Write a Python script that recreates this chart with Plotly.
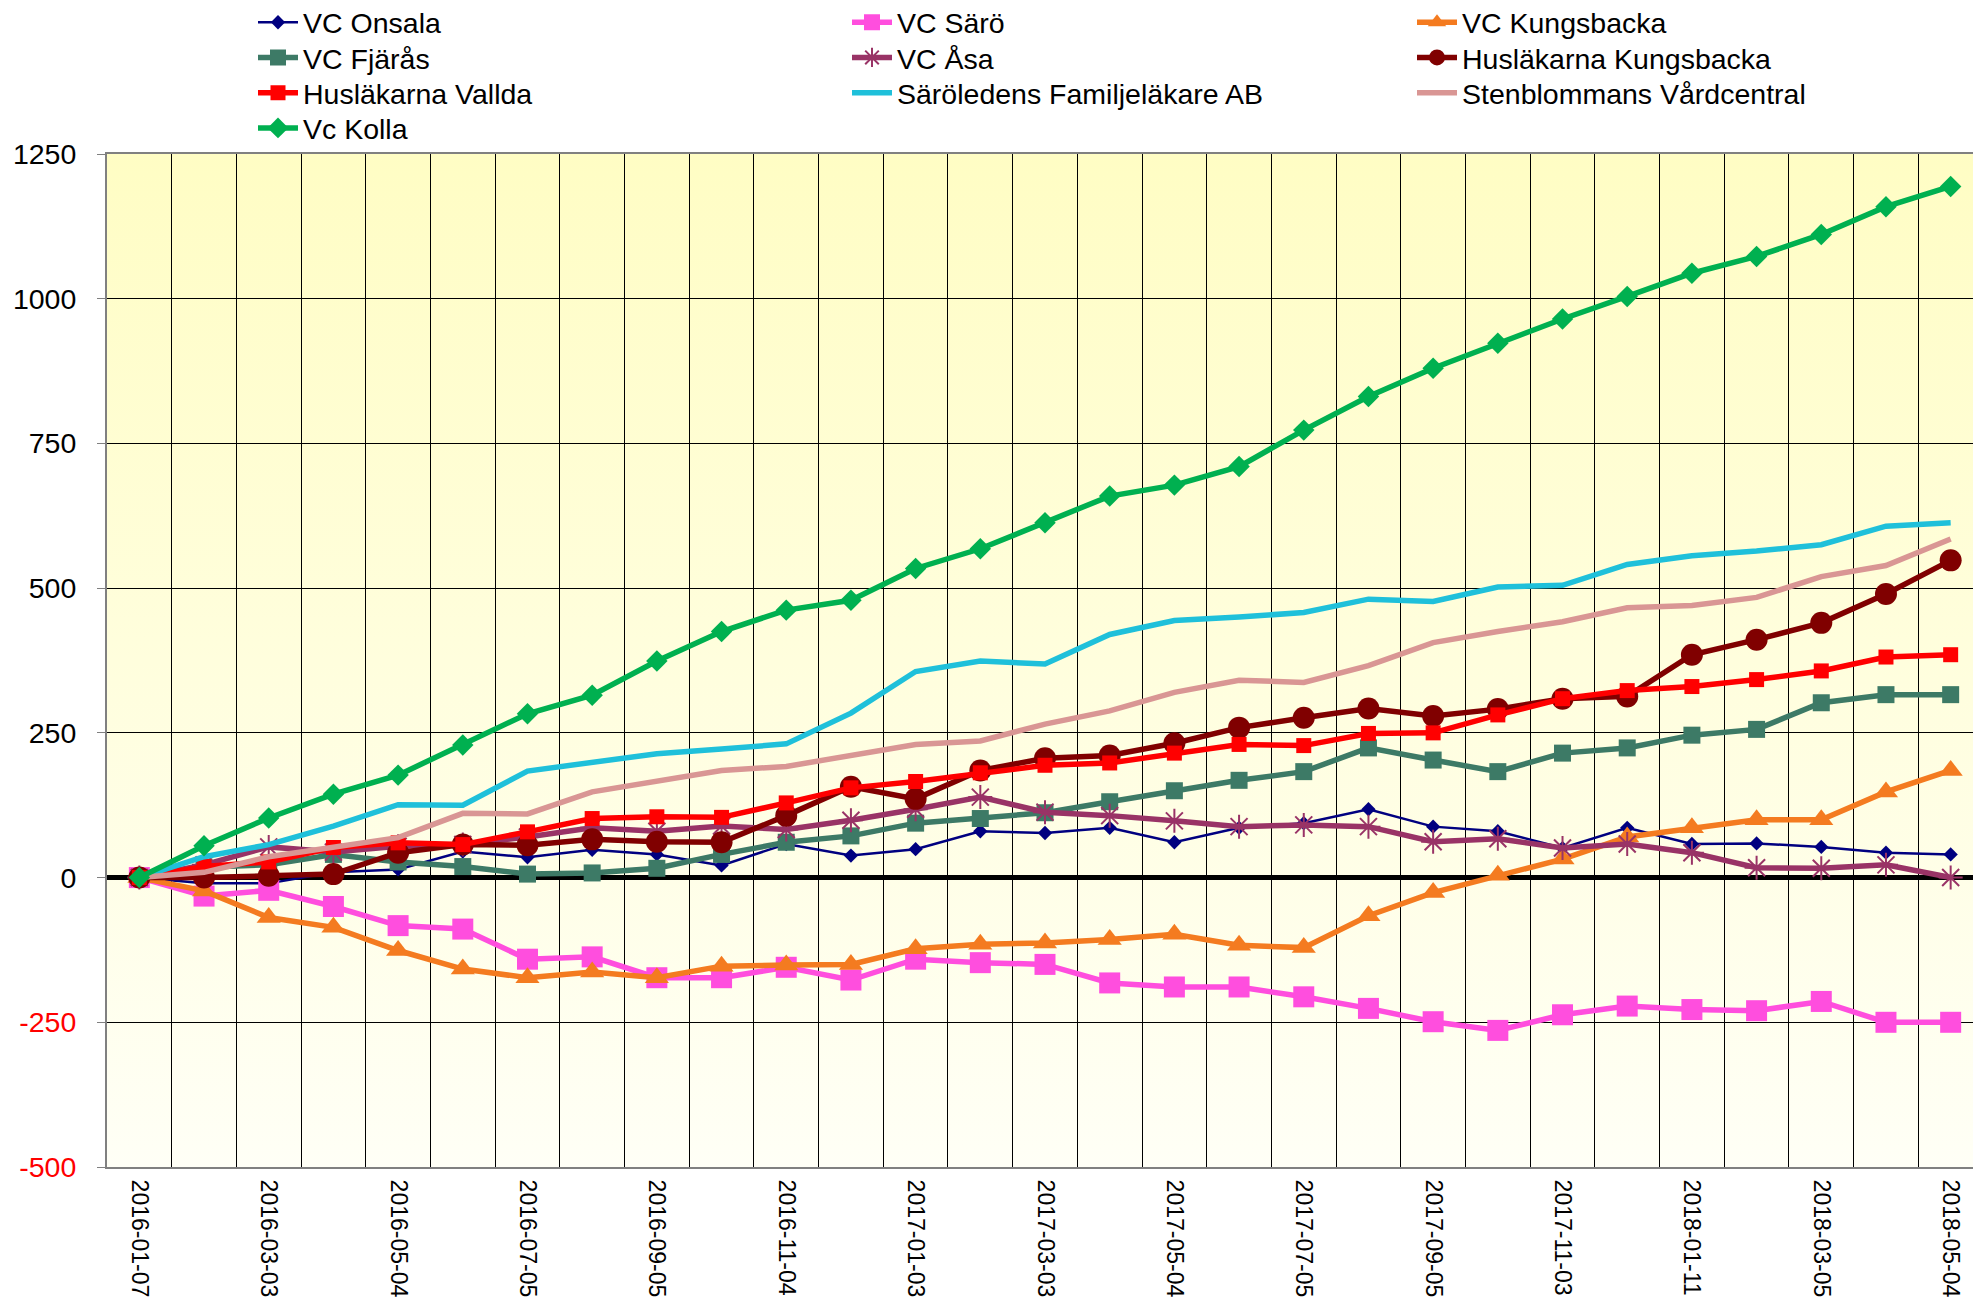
import base64
import plotly.graph_objects as go

# ---- data ----
tick_labels = ["2016-01-07", "2016-03-03", "2016-05-04", "2016-07-05", "2016-09-05",
               "2016-11-04", "2017-01-03", "2017-03-03", "2017-05-04", "2017-07-05",
               "2017-09-05", "2017-11-03", "2018-01-11", "2018-03-05", "2018-05-04"]
n_points = 29

vc_onsala = [0, -10, -10, 9, 14, 45, 35, 48, 40, 21, 58, 38, 49, 80, 77, 86, 61, 86, 94,
             118, 88, 80, 51, 86, 58, 59, 53, 43, 40]
vc_saro = [0, -32, -22, -50, -83, -89, -141, -137, -173, -173, -155, -177, -141, -147, -150,
           -182, -189, -189, -206, -226, -249, -264, -237, -222, -228, -230, -214, -250, -250]
vc_kungsbacka = [0, -23, -69, -86, -126, -158, -173, -163, -173, -153, -151, -150, -123, -115,
                 -113, -107, -98, -117, -121, -66, -26, 4, 32, 70, 86, 100, 100, 148, 185]
vc_fjaras = [0, 18, 22, 40, 27, 19, 6, 8, 16, 40, 61, 72, 94, 102, 112, 131, 150, 168, 183,
             224, 203, 183, 215, 224, 246, 256, 302, 316, 316]
vc_asa = [0, 22, 53, 44, 54, 57, 70, 86, 80, 89, 83, 99, 118, 139, 113, 107, 98, 88, 91, 88,
          62, 67, 51, 58, 43, 17, 16, 22, 0]
huslakarna_kungsbacka = [0, 0, 3, 6, 43, 57, 56, 66, 62, 61, 107, 157, 136, 185, 206, 211, 232,
                         259, 276, 292, 279, 291, 309, 313, 385, 411, 440, 490, 548]
huslakarna_vallda = [0, 19, 27, 52, 60, 57, 79, 102, 105, 104, 129, 155, 166, 181, 194, 198,
                     215, 230, 228, 249, 250, 281, 309, 323, 330, 342, 357, 381, 385]
saroledens = [0, 36, 57, 89, 126, 125, 184, 200, 214, 222, 231, 284, 356, 374, 369, 420, 444,
              450, 458, 481, 477, 502, 505, 541, 556, 564, 575, 607, 613]
stenblommans = [0, 9, 36, 52, 69, 111, 110, 148, 166, 185, 192, 211, 230, 236, 265, 288, 320,
                341, 337, 366, 406, 425, 442, 466, 470, 484, 520, 539, 585]
vc_kolla = [0, 55, 103, 144, 177, 229, 283, 315, 374, 425, 462, 479, 534, 568, 613, 659, 678,
            710, 773, 831, 880, 923, 965, 1004, 1044, 1073, 1111, 1159, 1194]

y_ticks = [-500, -250, 0, 250, 500, 750, 1000, 1250]

# ---- styles ----
series = [
    ("VC Onsala", vc_onsala, "#000080", 2.5, "diamond", 11),
    ("VC Särö", vc_saro, "#FF4EDE", 5.5, "square", 21),
    ("VC Kungsbacka", vc_kungsbacka, "#F47B20", 5.5, "triangle-up", 21),
    ("VC Fjärås", vc_fjaras, "#3D7A66", 5.5, "square", 17),
    ("VC Åsa", vc_asa, "#993366", 5.5, "asterisk-open", 20),
    ("Husläkarna Kungsbacka", huslakarna_kungsbacka, "#800000", 5.5, "circle", 22),
    ("Husläkarna Vallda", huslakarna_vallda, "#FF0000", 5.5, "square", 15),
    ("Säröledens Familjeläkare AB", saroledens, "#1FC0DA", 5.5, None, 0),
    ("Stenblommans Vårdcentral", stenblommans, "#D99694", 5.5, None, 0),
    ("Vc Kolla", vc_kolla, "#00B050", 5.5, "diamond", 16.5),
]

FONT = "Liberation Sans, Arial, sans-serif"
FS = 28.5
FS_X = 23
x_idx = list(range(n_points))

W, H = 1973, 1303
ML, MR, MT, MB = 107, 0, 154, 136
plot_w = W - ML - MR
plot_h = H - MT - MB


def lx(px):
    return (px - ML) / plot_w


def ly(py):
    return (H - MB - py) / plot_h


legend_row_y = [22.7, 57.9, 93.1, 128.4]
legend_col_x = [253, 847, 1412]

fig = go.Figure()
legend_layouts = {}
for i, (name, vals, color, lw, sym, msize) in enumerate(series):
    lg = "legend" if i == 0 else f"legend{i + 1}"
    if sym is None:
        mode = "lines"
        marker = None
    elif sym == "asterisk-open":
        mode = "lines+markers"
        marker = dict(symbol=sym, size=msize, color=color, line=dict(color=color, width=2))
    else:
        mode = "lines+markers"
        marker = dict(symbol=sym, size=msize, color=color, line=dict(width=0))
    fig.add_trace(go.Scatter(x=x_idx, y=vals, name=name, mode=mode,
                             line=dict(color=color, width=lw), marker=marker, legend=lg))
    legend_layouts[lg] = dict(
        x=lx(legend_col_x[i % 3]), y=ly(legend_row_y[i // 3]),
        xanchor="left", yanchor="middle", orientation="v", itemwidth=40,
        font=dict(family=FONT, size=FS, color="black"), bgcolor="rgba(0,0,0,0)",
        borderwidth=0)

# gradient background image
svg = ('<svg xmlns="http://www.w3.org/2000/svg" width="100" height="100" preserveAspectRatio="none">'
       '<defs><linearGradient id="g" x1="0" y1="0" x2="0" y2="1">'
       '<stop offset="0" stop-color="#FFFDC4"/><stop offset="1" stop-color="#FFFFF6"/>'
       '</linearGradient></defs><rect width="100" height="100" fill="url(#g)"/></svg>')
src = "data:image/svg+xml;base64," + base64.b64encode(svg.encode()).decode()
fig.add_layout_image(dict(source=src, xref="x", yref="y", x=-0.5, y=y_ticks[-1],
                          sizex=n_points, sizey=y_ticks[-1] - y_ticks[0], sizing="stretch",
                          xanchor="left", yanchor="top", layer="below"))

y_text = [f'<span style="color:#FF0000">{v}</span>' if v < 0 else str(v) for v in y_ticks]
x_range = [-0.5, (W - ML) / (1983 - ML) * n_points - 0.5]
boundaries = [i - 0.5 for i in range(n_points + 1)]

fig.update_layout(
    width=W, height=H,
    margin=dict(l=ML, r=MR, t=MT, b=MB, autoexpand=False),
    paper_bgcolor="white",
    plot_bgcolor="rgba(0,0,0,0)",
    font=dict(family=FONT, size=FS, color="black"),
    showlegend=True,
    xaxis=dict(
        range=x_range,
        tickmode="array", tickvals=x_idx[::2], ticktext=tick_labels,
        tickangle=90, tickfont=dict(family=FONT, size=FS_X, color="black"),
        ticklabelstandoff=6,
        showgrid=False, zeroline=False, ticks="",
        showline=True, linecolor="#808080", linewidth=2, mirror=True,
        minor=dict(tickmode="array", tickvals=boundaries,
                   showgrid=True, gridcolor="#000000", gridwidth=1, ticks=""),
        fixedrange=True,
    ),
    # category axis crossing at y = 0 (only its tick marks are visible)
    xaxis2=dict(
        overlaying="x", matches="x", anchor="free",
        position=(0 - y_ticks[0]) / (y_ticks[-1] - y_ticks[0]),
        side="bottom", tickmode="array", tickvals=boundaries, showticklabels=False,
        ticks="outside", ticklen=6, tickwidth=4, tickcolor="#000000",
        showgrid=False, zeroline=False, showline=False, fixedrange=True,
    ),
    yaxis=dict(
        range=[y_ticks[0], y_ticks[-1]],
        tickmode="array", tickvals=y_ticks, ticktext=y_text,
        tickfont=dict(family=FONT, size=FS, color="black"),
        showgrid=True, gridcolor="#000000", gridwidth=1,
        zeroline=True, zerolinecolor="#000000", zerolinewidth=5,
        showline=True, linecolor="#808080", linewidth=2,
        ticks="outside", ticklen=8, tickcolor="#808080", tickwidth=1,
        ticklabelstandoff=15,
        fixedrange=True,
    ),
    **legend_layouts,
)

fig.write_html("out.html", post_script="document.body.style.margin='0px';",
               config={"displayModeBar": False})
